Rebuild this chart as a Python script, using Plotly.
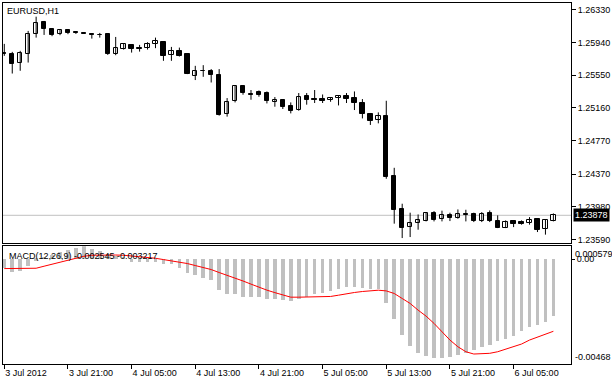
import plotly.graph_objects as go

# ---------------- data ----------------
bar_index = list(range(70))

opens = [1.25818, 1.25802, 1.25695, 1.25810, 1.26041, 1.26191, 1.26100, 1.26041, 1.26088, 1.26072,
         1.26056, 1.26048, 1.26036, 1.26041, 1.25802, 1.25869, 1.25917, 1.25877, 1.25874, 1.25921,
         1.25949, 1.25794, 1.25842, 1.25802, 1.25540, 1.25607, 1.25604, 1.25556, 1.25088, 1.25238,
         1.25421, 1.25326, 1.25345, 1.25342, 1.25226, 1.25255, 1.25183, 1.25135, 1.25297, 1.25266,
         1.25270, 1.25250, 1.25278, 1.25306, 1.25282, 1.25219, 1.25091, 1.25016, 1.25068, 1.24353,
         1.23956, 1.23737, 1.23790, 1.23809, 1.23909, 1.23829, 1.23877, 1.23849, 1.23888, 1.23888,
         1.23809, 1.23900, 1.23813, 1.23730, 1.23805, 1.23797, 1.23785, 1.23829, 1.23718, 1.23809]
highs = [1.25925, 1.25830, 1.25842, 1.26080, 1.26250, 1.26199, 1.26104, 1.26095, 1.26100, 1.26076,
         1.26056, 1.26053, 1.26056, 1.26053, 1.26008, 1.25933, 1.25921, 1.25913, 1.25945, 1.26000,
         1.25952, 1.25889, 1.25881, 1.25814, 1.25663, 1.25671, 1.25624, 1.25624, 1.25278, 1.25425,
         1.25425, 1.25374, 1.25369, 1.25357, 1.25290, 1.25258, 1.25226, 1.25338, 1.25338, 1.25374,
         1.25321, 1.25290, 1.25306, 1.25338, 1.25357, 1.25266, 1.25100, 1.25107, 1.25246, 1.24445,
         1.24016, 1.23909, 1.23888, 1.23916, 1.23928, 1.23933, 1.23909, 1.23948, 1.23944, 1.23909,
         1.23916, 1.23936, 1.23877, 1.23817, 1.23813, 1.23817, 1.23856, 1.23844, 1.23829, 1.23900]
lows = [1.25782, 1.25571, 1.25604, 1.25702, 1.26000, 1.26032, 1.26017, 1.26029, 1.26041, 1.26044,
        1.26044, 1.25988, 1.26000, 1.25794, 1.25790, 1.25857, 1.25821, 1.25833, 1.25857, 1.25874,
        1.25723, 1.25723, 1.25774, 1.25564, 1.25493, 1.25532, 1.25464, 1.25068, 1.25056, 1.25226,
        1.25318, 1.25258, 1.25294, 1.25214, 1.25175, 1.25147, 1.25095, 1.25127, 1.25199, 1.25219,
        1.25219, 1.25234, 1.25190, 1.25219, 1.25135, 1.25035, 1.24957, 1.24976, 1.24314, 1.23778,
        1.23606, 1.23618, 1.23706, 1.23805, 1.23805, 1.23805, 1.23809, 1.23837, 1.23805, 1.23797,
        1.23797, 1.23797, 1.23725, 1.23725, 1.23737, 1.23766, 1.23766, 1.23678, 1.23647, 1.23805]
closes = [1.25800, 1.25690, 1.25821, 1.26041, 1.26179, 1.26100, 1.26032, 1.26088, 1.26053, 1.26053,
          1.26044, 1.26036, 1.26029, 1.25802, 1.25874, 1.25921, 1.25862, 1.25862, 1.25929, 1.25957,
          1.25782, 1.25842, 1.25786, 1.25571, 1.25604, 1.25600, 1.25548, 1.25076, 1.25234, 1.25421,
          1.25333, 1.25318, 1.25314, 1.25238, 1.25258, 1.25166, 1.25127, 1.25290, 1.25258, 1.25258,
          1.25246, 1.25278, 1.25302, 1.25270, 1.25214, 1.25088, 1.25008, 1.25068, 1.24333, 1.23944,
          1.23730, 1.23790, 1.23817, 1.23909, 1.23821, 1.23877, 1.23844, 1.23888, 1.23884, 1.23809,
          1.23897, 1.23809, 1.23730, 1.23797, 1.23769, 1.23778, 1.23825, 1.23702, 1.23817, 1.23878]

macd_main = [-0.000415, -0.000566, -0.000521, -0.000299, -0.000076, 0.00008, 0.00018, 0.00030, 0.00040, 0.00050,
             0.00058, 0.00045, 0.00035, 0.00022, 0.00015, 0.00008, -0.00012, -0.000147, -0.000147, -0.000147,
             -0.000236, -0.000223, -0.000388, -0.000611, -0.000713, -0.000833, -0.000936, -0.001382, -0.001573, -0.001573,
             -0.00168, -0.00168, -0.00168, -0.001769, -0.001769, -0.001827, -0.001859, -0.001769, -0.001707, -0.001573,
             -0.001529, -0.001413, -0.00135, -0.001235, -0.001235, -0.001306, -0.001337, -0.00135, -0.001974, -0.002688,
             -0.003387, -0.003909, -0.004203, -0.004354, -0.004426, -0.004426, -0.004381, -0.00431, -0.004203, -0.004087,
             -0.003954, -0.003834, -0.003686, -0.003566, -0.003463, -0.00324, -0.003044, -0.002973, -0.002795, -0.002545]
macd_signal = [-0.000415, -0.000415, -0.000415, -0.000415, -0.0004, -0.00031, -0.00022, -0.000134, -0.000045, 0.000045,
               0.000134, 0.00018, 0.00019, 0.00019, 0.00019, 0.00018, 0.00015, 0.00012, 0.000076, 0.000045,
               -0.000013, -0.000076, -0.00012, -0.00019, -0.00028, -0.00037, -0.000459, -0.000593, -0.000713, -0.000816,
               -0.00097, -0.00111, -0.00125, -0.00138, -0.00149, -0.0016, -0.001694, -0.001694, -0.001694, -0.001694,
               -0.001694, -0.001662, -0.001605, -0.001529, -0.001484, -0.00144, -0.001413, -0.001382, -0.001413, -0.001529,
               -0.001752, -0.001974, -0.002273, -0.00254, -0.002866, -0.00324, -0.00361, -0.003909, -0.004132, -0.004234,
               -0.004234, -0.004203, -0.004132, -0.004025, -0.003909, -0.003788, -0.00361, -0.00349, -0.003356, -0.003217]

price_ticks = [1.26330, 1.25940, 1.25550, 1.25160, 1.24770, 1.24370, 1.23980, 1.23590]
price_tick_text = ["1.26330", "1.25940", "1.25550", "1.25160", "1.24770", "1.24370", "1.23980", "1.23590"]
time_tick_pos = [0, 8, 16, 24, 32, 40, 48, 56, 64]
time_tick_text = ["3 Jul 2012", "3 Jul 21:00", "4 Jul 05:00", "4 Jul 13:00", "4 Jul 21:00",
                  "5 Jul 05:00", "5 Jul 13:00", "5 Jul 21:00", "6 Jul 05:00"]
symbol_label = "EURUSD,H1"
macd_label = "MACD(12,26,9) -0.002545 -0.003217"
macd_max = 0.000579
macd_min = -0.00468
last_price = 1.23878

# ---------------- figure ----------------
FONT = "Liberation Sans, Arial, sans-serif"
W, H = 612, 380
ML, MR, MT, MB = 2, 39, 2, 16
plot_h = H - MT - MB
main_bottom_px = 243
macd_top_px = 246
main_dom = [(H - MB - main_bottom_px) / plot_h, 1.0]
macd_dom = [0.0, (H - MB - macd_top_px) / plot_h]

fig = go.Figure()

# wicks
wx, wy = [], []
for i, h, l in zip(bar_index, highs, lows):
    wx += [i, i, None]
    wy += [l, h, None]
fig.add_trace(go.Scatter(x=wx, y=wy, mode="lines", line=dict(color="black", width=1),
                         hoverinfo="skip", showlegend=False, xaxis="x", yaxis="y"))

min_body = 0.000012
bull_x, bull_b, bull_h, bear_x, bear_b, bear_h = [], [], [], [], [], []
for i, o, c in zip(bar_index, opens, closes):
    lo = min(o, c)
    hgt = max(abs(c - o), min_body)
    if c > o:
        bull_x.append(i); bull_b.append(lo); bull_h.append(hgt)
    else:
        bear_x.append(i); bear_b.append(lo); bear_h.append(hgt)

fig.add_trace(go.Bar(x=bull_x, y=bull_h, base=bull_b, width=0.55,
                     marker=dict(color="white", line=dict(color="black", width=1)),
                     showlegend=False, xaxis="x", yaxis="y"))
fig.add_trace(go.Bar(x=bear_x, y=bear_h, base=bear_b, width=0.55,
                     marker=dict(color="black", line=dict(color="black", width=1)),
                     showlegend=False, xaxis="x", yaxis="y"))

# MACD
fig.add_trace(go.Bar(x=bar_index, y=macd_main, width=0.45,
                     marker=dict(color="#C0C0C0", line=dict(width=0)),
                     showlegend=False, xaxis="x2", yaxis="y2"))
fig.add_trace(go.Scatter(x=bar_index, y=macd_signal, mode="lines",
                         line=dict(color="#FF0000", width=1),
                         showlegend=False, xaxis="x2", yaxis="y2"))

plot_w = W - ML - MR
x0 = -1.3 / 8
x_range = [x0, x0 + plot_w / 8]

px_per_price = 0.0001191
y_top = 1.26330 + 7 * px_per_price
y_bot = 1.26330 - (main_bottom_px - 9) * px_per_price

axis_common = dict(showline=True, mirror=True, linecolor="black", linewidth=1,
                   showgrid=False, zeroline=False, tickcolor="black",
                   tickfont=dict(family=FONT, size=9, color="black"))

fig.update_layout(
    width=W, height=H,
    margin=dict(l=ML, r=MR, t=MT, b=MB),
    paper_bgcolor="white", plot_bgcolor="white",
    barmode="overlay", bargap=0,
    showlegend=False,
    font=dict(family=FONT, size=9, color="black"),
    xaxis=dict(domain=[0, 1], anchor="y", range=x_range, showticklabels=False, ticks="",
               **axis_common),
    xaxis2=dict(domain=[0, 1], anchor="y2", range=x_range, matches="x",
                tickmode="array", tickvals=time_tick_pos, ticktext=time_tick_text,
                ticks="outside", ticklen=4, ticklabelposition="outside right",
                **axis_common),
    yaxis=dict(domain=main_dom, anchor="x", range=[y_bot, y_top], side="right",
               tickmode="array", tickvals=price_ticks, ticktext=price_tick_text,
               ticks="outside", ticklen=4, **axis_common),
    yaxis2=dict(domain=macd_dom, anchor="x2", range=[macd_min, macd_max], side="right",
                tickmode="array", tickvals=[0], ticktext=["0.00"],
                ticks="outside", ticklen=3, **axis_common),
)

# current price line
fig.add_shape(type="line", xref="x domain", yref="y", x0=0, x1=1, y0=last_price, y1=last_price,
              line=dict(color="#C0C0C0", width=1), layer="below")

fig.add_annotation(xref="paper", yref="paper", x=0, y=1, xanchor="left", yanchor="top",
                   xshift=2, yshift=-1, text=symbol_label, showarrow=False,
                   font=dict(family=FONT, size=9, color="black"))
fig.add_annotation(xref="paper", yref="paper", x=0, y=macd_dom[1], xanchor="left", yanchor="top",
                   xshift=4, yshift=-3, text=macd_label, showarrow=False,
                   font=dict(family=FONT, size=9, color="black"))
fig.add_annotation(xref="paper", yref="y", x=1, y=last_price, xanchor="left", yanchor="middle",
                   xshift=2, text=f"{last_price:.5f}", showarrow=False, bgcolor="black",
                   borderpad=1, font=dict(family=FONT, size=9, color="white"))
fig.add_annotation(xref="paper", yref="y2", x=1, y=macd_max, xanchor="left", yanchor="top",
                   xshift=2, yshift=-1, text=f"{macd_max:.6f}", showarrow=False,
                   font=dict(family=FONT, size=9, color="black"))
fig.add_annotation(xref="paper", yref="y2", x=1, y=macd_min, xanchor="left", yanchor="bottom",
                   xshift=2, yshift=0, text=f"{macd_min:.5f}", showarrow=False,
                   font=dict(family=FONT, size=9, color="black"))

fig.write_html("out.html",
               config={"displayModeBar": False},
               post_script="document.body.style.margin='0';document.body.style.padding='0';"
                           "document.body.style.overflow='hidden';")
